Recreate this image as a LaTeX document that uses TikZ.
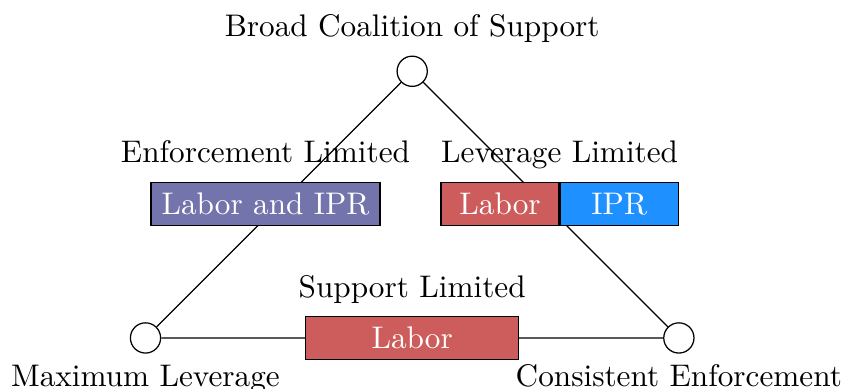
\documentclass[tikz,border=0pt]{standalone}
\usepackage{tikz}
\usetikzlibrary{positioning,calc}
\definecolor{tlpurple}{RGB}{116,116,172}
\definecolor{tlred}{RGB}{205,92,92}
\definecolor{tlblue}{RGB}{30,144,255}
\tikzstyle{corner} = [circle, draw, fill=white, minimum size=0.34cm, inner sep=0pt]
\tikzstyle{issue} = [rectangle, draw, minimum height=0.48cm, text=white]
\tikzstyle{tag} = [text depth=0.25em]

\begin{document}
\begin{tikzpicture}[every label/.style={tag}]
\useasboundingbox (-1.637,-0.574) rectangle (7.869,3.802);
% Corners of the triangle
\node[corner, label=above:{Broad Coalition of Support}] (support) at (3,3) {};
\node[corner, label=below:{Maximum Leverage}] (leverage) at (0,0) {};
\node[corner, label=below:{Consistent Enforcement}] (enforce) at (6,0) {};

% Sides
\draw (leverage) -- (support) -- (enforce) -- (leverage);

% What gets limited on each side
\node[issue, fill=tlpurple, minimum width=2.576cm, label=above:{Enforcement Limited}] (enflim) at (1.35,1.51) {Labor and IPR};
\node[issue, fill=tlred, minimum width=1.327cm] (levlabor) at (3.988,1.51) {Labor};
\node[issue, fill=tlblue, minimum width=1.327cm, right=0pt of levlabor] (levipr) {IPR};
\node[tag, above] (levlim) at ($(levlabor.north)!0.5!(levipr.north)$) {Leverage Limited};
\node[issue, fill=tlred, minimum width=2.4cm, label=above:{Support Limited}] (suplim) at (3,0) {Labor};
\end{tikzpicture}
\end{document}
